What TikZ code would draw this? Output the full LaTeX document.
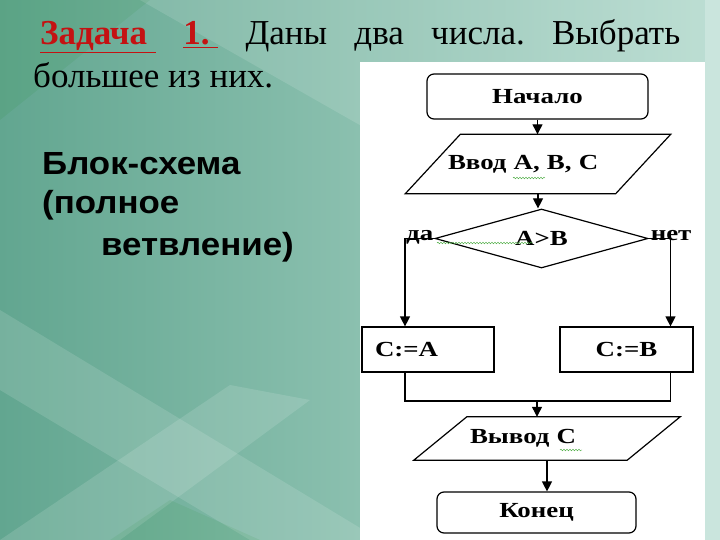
\documentclass[tikz,border=0pt]{standalone}
\usepackage{fontspec}
\setmainfont{Liberation Serif}
\newfontfamily\headsans[FakeStretch=1.09]{Liberation Sans}
\newfontfamily\chartfont[FakeStretch=1.25]{Liberation Serif}
\usetikzlibrary{shapes.geometric,arrows.meta,decorations.pathmorphing}
\usetikzlibrary{scopes}
\definecolor{bgdark}{RGB}{98,166,144}
\definecolor{bglight}{RGB}{180,218,206}
\definecolor{titlered}{RGB}{196,18,18}
\definecolor{squiggle}{RGB}{70,170,60}
% slanted frame round an input/output node: #1 node, #2 half of the slant
\newcommand{\ioframe}[2]{%
  \draw[line] ([xshift=#2]#1.north west) -- ([xshift=#2]#1.north east)
    -- ([xshift=-#2]#1.south east) -- ([xshift=-#2]#1.south west) -- cycle;}

\begin{document}
\frenchspacing
\begin{tikzpicture}
      [
      x=1pt, y=-1pt,
      every node/.style={inner sep=0pt, font=\chartfont\bfseries\fontsize{21.5}{23}\selectfont},
      line/.style={draw=black, line width=1.2pt},
      flow/.style={line, ->, >={Triangle[length=10pt,width=10pt]}},
      terminal/.style={line, rounded corners=7pt},
      process/.style={line},
      decision/.style={line, diamond, aspect=3.6},
      wavy/.style={draw=squiggle, thin, decorate, decoration={snake, amplitude=0.9pt, segment length=3pt}},
      ]
      \useasboundingbox (0,0) rectangle (720,540);
      % slide background
      \fill[left color=bgdark, right color=bglight] (0,0) rectangle (720,540);
      {[fill=white, opacity=0.13]
        \fill (140,0) -- (720,0) -- (720,330) -- cycle;
        \fill (0,310) -- (380,540) -- (250,540) -- (0,390) -- cycle;
        \fill (0,540) -- (230,385) -- (310,400) -- (120,540) -- cycle;
      }
      {[fill=black!50!green, opacity=0.07]
        \fill (0,0) -- (150,0) -- (0,120) -- cycle;
        \fill (110,540) -- (170,500) -- (260,540) -- cycle;
      }
      \fill[bglight!70!white] (705,0) rectangle (720,540);
      \fill[white] (360,62) rectangle (705,540);

      % title
      {[every node/.style={inner sep=0pt, anchor=base west, font=\rmfamily\fontsize{35}{40}\selectfont}]
        \node (title) at (40,45)
          {\makebox[640pt][s]{\textcolor{titlered}{\bfseries\underline{Задача\ }}\ \textcolor{titlered}{\bfseries\underline{1.\ }} Даны два числа. Выбрать}};
        \node (title2) at (33,88) {большее из них.};
      }

      % caption on the left
      {[every node/.style={inner sep=0pt, anchor=base west, font=\headsans\bfseries\fontsize{32}{38}\selectfont}]
        \node (cap1) at (42,175) {Блок-схема};
        \node (cap2) at (42,214) {(полное};
        \node (cap3) at (101,255) {ветвление)};
      }

      % flowchart
      \node[terminal, minimum width=221pt, minimum height=45pt] (start) at (537.5,96.5) {Начало};
      \node[minimum width=210pt, minimum height=59pt, text width=180pt, align=left] (in) at (538,164) {Ввод А, В, С};
      \ioframe{in}{27.5pt}
      \node[decision, minimum width=213pt, minimum height=59pt] (cond) at (541.5,238.5) {A>B};
      \node[anchor=base east] (yes) at ([xshift=-1pt, yshift=-2pt]cond.west) {да};
      \node[anchor=base west] (no) at ([xshift=2pt, yshift=-2pt]cond.east) {нет};
      \node[process, minimum width=132pt, minimum height=45pt, text width=106pt, align=left] (ya) at (428,349.5) {C:=A};
      \node[process, minimum width=133pt, minimum height=45pt] (yb) at (626.5,349.5) {C:=B};
      \node[minimum width=213pt, minimum height=43pt, text width=154pt, align=left] (out) at (547,438.5) {Вывод С};
      \ioframe{out}{26.5pt}
      \node[terminal, minimum width=199pt, minimum height=41pt] (stop) at (536.5,512.5) {Конец};
      \coordinate (join) at (537,401);

      {[flow]
        \draw (start) -- (start.south |- in.north);
        \draw (in.south) -- (in.south |- cond.north);
        \draw (cond.west) -| ([xshift=-23pt]ya.north);
        \draw (cond.east) -| ([xshift=44pt]yb.north);
        \draw (join) -- (join |- out.north);
        \draw (out.south) -- (out.south |- stop.north);
      }
      \draw[line] ([xshift=-23pt]ya.south) |- (join) -| ([xshift=44pt]yb.south);

      % spelling marks under the words
      \draw[wavy] (513,178) -- (545,178);
      \draw[wavy] (437,243) -- (533,243);
      \draw[wavy] (560,450) -- (582,450);
    \end{tikzpicture}
\end{document}
